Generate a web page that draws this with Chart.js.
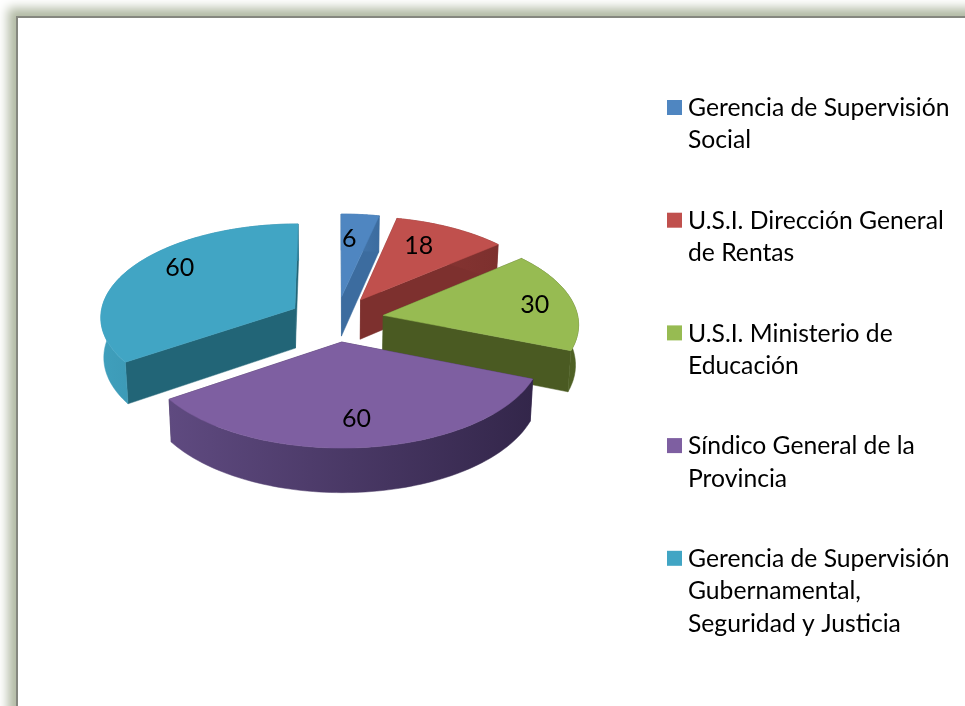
<!DOCTYPE html>
<html>
<head>
<meta charset="utf-8">
<style>
  html, body { margin: 0; padding: 0; background: #fff; overflow: hidden; }
  #frame { position: absolute; left: 16px; top: 16px; width: 1100px; height: 900px; background: #fff;
           border: 2px solid #85877f; box-shadow: 0 0 10px 8px #b2baa4; }
  #wrap { position: absolute; left: 0; top: 0; width: 965px; height: 706px; }
</style>
</head>
<body>
<div id="frame"></div>
<div id="wrap"><canvas id="pieChart" width="965" height="706"></canvas></div>
<script src="https://cdn.jsdelivr.net/npm/chart.js@4/dist/chart.umd.min.js"></script>
<script>
var categories = [
  ['Gerencia de Supervisión', 'Social'],
  ['U.S.I. Dirección General', 'de Rentas'],
  ['U.S.I. Ministerio de', 'Educación'],
  ['Síndico General de la', 'Provincia'],
  ['Gerencia de Supervisión', 'Gubernamental,', 'Seguridad y Justicia']
];
var values = [6, 18, 30, 60, 60];

var topColors = ['#4f86c1', '#c0504d', '#97bb52', '#7e5fa1', '#41a5c4'];
var innerColors = ['#3c6c9f', '#7d302e', '#4a5a22', '#3f2e55', '#226577'];
var outerFrom = ['#4a7cb2', '#8a3634', '#4a5a22', '#5f4a80', '#3f9fbc'];
var outerTo = ['#3c6c9f', '#7d302e', '#4f6125', '#33264a', '#2f7f99'];
// where each number sits inside its slice (share of radius, share of sweep)
var labelRadius = [0.68, 0.71, 0.797, 0.745, 0.774];
var labelSweep = [0.30, 0.40, 0.517, 0.508, 0.565];
var drawOrder = [4, 0, 1, 2, 3];

// camera settings for the tilted pie
var squash = 0.478, persp = 0.000425, depth = 40, converge = 0.00032;

function project(el, a, r, z) {
  var off = el.options.offset / 4;
  var mid = (el.startAngle + el.endAngle) / 2;
  var u = Math.cos(mid) * off + Math.cos(a) * r;
  var v = -(Math.sin(mid) * off + Math.sin(a) * r);
  var w = 1 / (1 + persp * v);
  return { x: el.x + u * w * (1 - converge * z), y: el.y - squash * v * w + z * w };
}

function poly(ctx, pts, fill) {
  ctx.beginPath();
  pts.forEach(function (p, i) { if (i) ctx.lineTo(p.x, p.y); else ctx.moveTo(p.x, p.y); });
  ctx.closePath();
  ctx.fillStyle = fill;
  ctx.strokeStyle = fill;
  ctx.lineWidth = 0.5;
  ctx.fill();
  ctx.stroke();
}

var tiltedPie = {
  id: 'tiltedPie',
  beforeDatasetsDraw: function (chart) {
    var ctx = chart.ctx;
    var arcs = chart.getDatasetMeta(0).data;
    drawOrder.forEach(function (i) {
      var el = arcs[i];
      var R = el.outerRadius;
      var top = [], bottom = [], n = 80;
      for (var s = 0; s <= n; s++) {
        var a = el.startAngle + (el.endAngle - el.startAngle) * s / n;
        top.push(project(el, a, R, 0));
        bottom.push(project(el, a, R, depth));
      }
      var apex = project(el, el.startAngle, 0, 0);
      var apexLow = project(el, el.startAngle, 0, depth);
      poly(ctx, [apex, top[0], bottom[0], apexLow], innerColors[i]);
      poly(ctx, [apex, top[n], bottom[n], apexLow], innerColors[i]);
      var xs = top.map(function (p) { return p.x; });
      var g = ctx.createLinearGradient(Math.min.apply(null, xs), 0, Math.max.apply(null, xs), 0);
      g.addColorStop(0, outerFrom[i]);
      g.addColorStop(1, outerTo[i]);
      poly(ctx, top.concat(bottom.slice().reverse()), g);
      poly(ctx, [apex].concat(top), chart.data.datasets[0].backgroundColor[i]);
    });
    ctx.fillStyle = '#000';
    ctx.font = '25px Lato';
    ctx.textAlign = 'center';
    ctx.textBaseline = 'middle';
    arcs.forEach(function (el, i) {
      var a = el.startAngle + (el.endAngle - el.startAngle) * labelSweep[i];
      var p = project(el, a, el.outerRadius * labelRadius[i], 0);
      ctx.fillText(String(values[i]), p.x, p.y);
    });
    drawLegend(chart);
    return false;
  }
};

function drawLegend(chart) {
  var ctx = chart.ctx, y = 107.5;
  ctx.textAlign = 'left';
  ctx.textBaseline = 'middle';
  ctx.font = '24.7px Lato';
  categories.forEach(function (lines, i) {
    ctx.fillStyle = topColors[i];
    ctx.fillRect(667, y - 7.5, 15, 15);
    ctx.fillStyle = '#000';
    lines.forEach(function (t, j) { ctx.fillText(t, 688, y + 0.7 + j * 32.3); });
    y += 112.7;
  });
}

new Chart(document.getElementById('pieChart').getContext('2d'), {
  type: 'pie',
  data: {
    labels: categories.map(function (c) { return c.join(' '); }),
    datasets: [{ data: values, backgroundColor: topColors, borderWidth: 0, offset: 190 }]
  },
  options: {
    responsive: false,
    animation: false,
    layout: { padding: { left: 0, right: 292, top: 29, bottom: 97 } },
    plugins: { legend: { display: false }, tooltip: { enabled: false } }
  },
  plugins: [tiltedPie]
});
</script>
</body>
</html>
